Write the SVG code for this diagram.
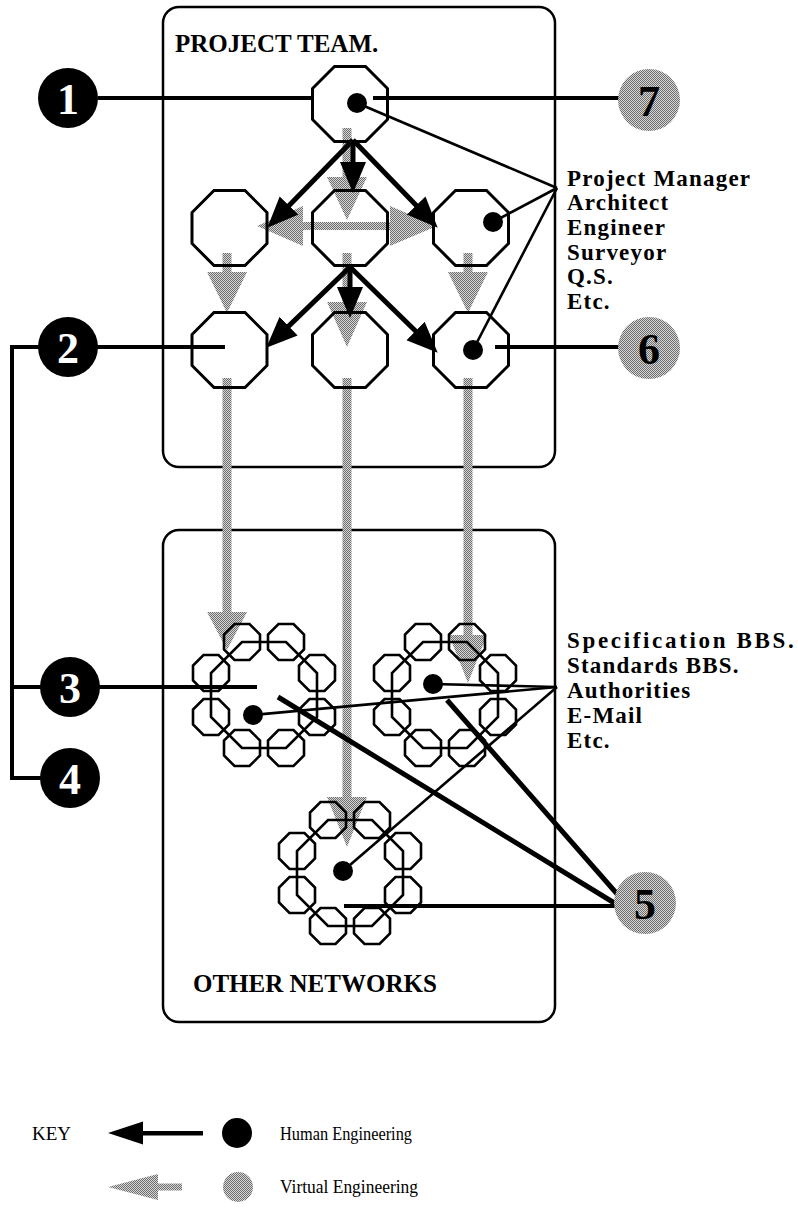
<svg xmlns="http://www.w3.org/2000/svg" xmlns:xlink="http://www.w3.org/1999/xlink" width="798" height="1215" viewBox="0 0 798 1215">
  <style>
    .box { fill: none; stroke: #000; stroke-width: 2.5; }
    .oct { fill: none; stroke: #000; stroke-width: 3; }
    .soct { fill: none; stroke: #000; stroke-width: 2.6; }
    .dot { fill: #000; }
    .arrow { fill: none; stroke: #000; stroke-width: 5; marker-end: url(#head); }
    .link { fill: none; stroke: #000; stroke-width: 4; }
    .thin { fill: none; stroke: #000; stroke-width: 2.6; }
    .thick { fill: none; stroke: #000; stroke-width: 5; }
    .virtual { fill: url(#dither); stroke: none; }
    .num-h { fill: #000; }
    .num-v { fill: url(#dither); }
    .num { font-family: "Liberation Serif", "Times New Roman", serif; font-weight: bold; font-size: 44px; text-anchor: middle; }
    .num-h-t { fill: #fff; }
    .num-v-t { fill: #000; }
    .lbl { font-family: "Liberation Serif", "Times New Roman", serif; font-weight: bold; font-size: 23px; letter-spacing: 1.2px; fill: #000; }
    .title { font-family: "Liberation Serif", "Times New Roman", serif; font-weight: bold; font-size: 25px; fill: #000; }
    .key { font-family: "Liberation Serif", "Times New Roman", serif; font-size: 19px; fill: #000; }
  </style>
  <defs>
    <pattern id="dither" width="2" height="2" patternUnits="userSpaceOnUse">
      <rect width="2" height="2" fill="#d6d6d6"/>
      <rect width="1" height="1" fill="#6e6e6e"/>
      <rect x="1" y="1" width="1" height="1" fill="#6e6e6e"/>
    </pattern>
    <marker id="head" markerUnits="userSpaceOnUse" markerWidth="32" markerHeight="28" viewBox="0 0 32 28" refX="10" refY="13" orient="auto">
      <path d="M0,0 L31,13 L0,26 Z" fill="#000"/>
    </marker>
    <!-- team member octagon, 75 across flats -->
    <polygon id="oct" points="-15.5,-37.5 15.5,-37.5 37.5,-15.5 37.5,15.5 15.5,37.5 -15.5,37.5 -37.5,15.5 -37.5,-15.5"/>
    <!-- small octagon used in network rings -->
    <polygon id="soct" points="-7.5,-18 7.5,-18 18,-7.5 18,7.5 7.5,18 -7.5,18 -18,7.5 -18,-7.5"/>
    <!-- a network: ring of eight small octagons on a larger octagon -->
    <g id="ring">
      <polygon class="soct" points="-22,-53 22,-53 53,-22 53,22 22,53 -22,53 -53,22 -53,-22"/>
      <use href="#soct" class="soct" x="-22" y="-53"/>
      <use href="#soct" class="soct" x="22" y="-53"/>
      <use href="#soct" class="soct" x="53" y="-22"/>
      <use href="#soct" class="soct" x="53" y="22"/>
      <use href="#soct" class="soct" x="22" y="53"/>
      <use href="#soct" class="soct" x="-22" y="53"/>
      <use href="#soct" class="soct" x="-53" y="22"/>
      <use href="#soct" class="soct" x="-53" y="-22"/>
    </g>
  </defs>

  <rect width="798" height="1215" fill="#fff"/>

  <!-- containers -->
  <g id="project-team">
    <rect class="box" x="163" y="7" width="392" height="460" rx="16"/>
    <text class="title" x="175" y="52">PROJECT TEAM.</text>
  </g>
  <g id="other-networks">
    <rect class="box" x="163" y="530" width="392" height="492" rx="16"/>
    <text class="title" x="193" y="992">OTHER NETWORKS</text>
  </g>

  <!-- virtual engineering flows (grey) -->
  <g id="virtual-flows">
    <polygon class="virtual" points="342.5,128 351.5,128 351.5,177 367,177 347,220 327,177 342.5,177"/>
    <polygon class="virtual" points="257,226 303,206 303,222 390,222 390,206 437,226 390,246 390,230 303,230 303,246"/>
    <polygon class="virtual" points="222.5,253 231.5,253 231.5,272 247,272 227,313 207,272 222.5,272"/>
    <polygon class="virtual" points="463.5,253 472.5,253 472.5,272 488,272 468,313 448,272 463.5,272"/>
    <polygon class="virtual" points="342.5,253 351.5,253 351.5,302 367,302 347,347 327,302 342.5,302"/>
    <polygon class="virtual" points="222.5,378 231.5,378 231.5,612 247,612 227,650 207,612 222.5,612"/>
    <polygon class="virtual" points="342.5,378 351.5,378 351.5,797 367,797 347,847 327,797 342.5,797"/>
    <polygon class="virtual" points="463.5,378 472.5,378 472.5,635 487,635 468,683 449,635 463.5,635"/>
  </g>

  <!-- team members -->
  <g id="member-top"><use href="#oct" class="oct" x="350" y="104"/><circle class="dot" cx="357" cy="103" r="10"/></g>
  <g id="member-2a"><use href="#oct" class="oct" x="229.5" y="228"/></g>
  <g id="member-2b"><use href="#oct" class="oct" x="350" y="228"/></g>
  <g id="member-2c"><use href="#oct" class="oct" x="471" y="228"/><circle class="dot" cx="493" cy="222" r="10"/></g>
  <g id="member-3a"><use href="#oct" class="oct" x="229.5" y="350"/></g>
  <g id="member-3b"><use href="#oct" class="oct" x="350" y="350"/></g>
  <g id="member-3c"><use href="#oct" class="oct" x="471" y="350"/><circle class="dot" cx="473" cy="350" r="10"/></g>

  <!-- networks -->
  <g id="network-left"><use href="#ring" x="264" y="695"/><circle class="dot" cx="253" cy="715" r="10"/></g>
  <g id="network-right"><use href="#ring" x="445" y="695"/><circle class="dot" cx="433" cy="684" r="10"/></g>
  <g id="network-bottom"><use href="#ring" x="350" y="873"/><circle class="dot" cx="343" cy="871" r="10"/></g>

  <!-- connectors -->
  <g id="connectors">
    <!-- human engineering flows (black arrows) -->
    <line class="arrow" x1="353" y1="140" x2="282" y2="212.7"/>
    <line class="arrow" x1="353" y1="140" x2="353" y2="172"/>
    <line class="arrow" x1="353" y1="140" x2="423.1" y2="212.6"/>
    <line class="arrow" x1="350" y1="267" x2="281.4" y2="333.1"/>
    <line class="arrow" x1="350" y1="267" x2="350" y2="297"/>
    <line class="arrow" x1="350" y1="267" x2="422.7" y2="338"/>

    <!-- callout leaders -->
    <line class="link" x1="98" y1="98" x2="313" y2="98"/>
    <line class="link" x1="373" y1="98" x2="620" y2="98"/>
    <polyline class="link" points="98,347 12,347 12,778 42,778"/>
    <line class="link" x1="98" y1="347" x2="225" y2="347"/>
    <line class="link" x1="12" y1="687" x2="257" y2="687"/>
    <line class="link" x1="495" y1="347" x2="620" y2="347"/>

    <line class="thin" x1="357" y1="103" x2="557" y2="188"/>
    <line class="thin" x1="493" y1="222" x2="557" y2="188"/>
    <line class="thin" x1="473" y1="350" x2="557" y2="188"/>

    <line class="thin" x1="253" y1="715" x2="557" y2="687"/>
    <line class="thin" x1="433" y1="684" x2="557" y2="687"/>
    <line class="thin" x1="343" y1="871" x2="557" y2="687"/>

    <line class="thick" x1="278" y1="697" x2="616" y2="904"/>
    <line class="thick" x1="447" y1="700" x2="618" y2="895"/>
    <line class="link" x1="344" y1="906" x2="616" y2="906"/>
  </g>

  <!-- numbered callouts -->
  <g id="callout-1"><circle class="num-h" cx="68" cy="98" r="30"/><text class="num num-h-t" x="68" y="114">1</text></g>
  <g id="callout-2"><circle class="num-h" cx="68" cy="347" r="30"/><text class="num num-h-t" x="68" y="363">2</text></g>
  <g id="callout-3"><circle class="num-h" cx="70" cy="687" r="30"/><text class="num num-h-t" x="70" y="703">3</text></g>
  <g id="callout-4"><circle class="num-h" cx="70" cy="778" r="30"/><text class="num num-h-t" x="70" y="794">4</text></g>
  <g id="callout-7"><circle class="num-v" cx="649" cy="100" r="31"/><text class="num num-v-t" x="649" y="116">7</text></g>
  <g id="callout-6"><circle class="num-v" cx="649" cy="348" r="31"/><text class="num num-v-t" x="649" y="364">6</text></g>
  <g id="callout-5"><circle class="num-v" cx="645" cy="903" r="31"/><text class="num num-v-t" x="645" y="919">5</text></g>

  <!-- role labels -->
  <g id="roles">
    <text class="lbl" x="567" y="186">Project Manager</text>
    <text class="lbl" x="567" y="210">Architect</text>
    <text class="lbl" x="567" y="235">Engineer</text>
    <text class="lbl" x="567" y="260">Surveyor</text>
    <text class="lbl" x="567" y="284">Q.S.</text>
    <text class="lbl" x="567" y="309">Etc.</text>
  </g>
  <g id="services">
    <text class="lbl" x="567" y="648" textLength="228">Specification BBS.</text>
    <text class="lbl" x="567" y="673">Standards BBS.</text>
    <text class="lbl" x="567" y="698">Authorities</text>
    <text class="lbl" x="567" y="723">E-Mail</text>
    <text class="lbl" x="567" y="748">Etc.</text>
  </g>

  <!-- key -->
  <g id="key">
    <text class="key" x="32" y="1140">KEY</text>
    <polygon points="108,1133 143,1121.5 143,1131 203,1131 203,1135.5 143,1135.5 143,1144.5" fill="#000"/>
    <circle cx="237" cy="1133" r="15" fill="#000"/>
    <text class="key" x="280" y="1140" textLength="132" lengthAdjust="spacingAndGlyphs">Human Engineering</text>
    <polygon class="virtual" points="108,1187 158,1174 158,1183.5 182,1183.5 182,1190.5 158,1190.5 158,1200"/>
    <circle cx="238" cy="1187" r="15" fill="url(#dither)"/>
    <text class="key" x="280" y="1193" textLength="138" lengthAdjust="spacingAndGlyphs">Virtual Engineering</text>
  </g>
</svg>
